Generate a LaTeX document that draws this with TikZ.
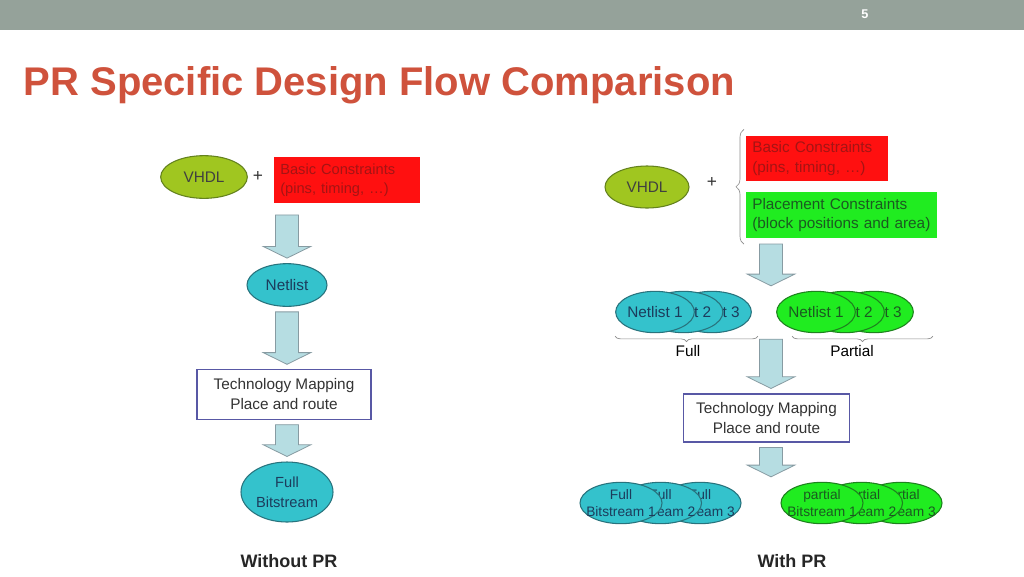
\documentclass[tikz,border=0pt]{standalone}
\usepackage{fontspec}
\setmainfont{Liberation Sans}
\usepackage{tikz}
\usetikzlibrary{shapes,arrows}
\usetikzlibrary{calc}
\usetikzlibrary{positioning}
\usetikzlibrary{decorations.pathreplacing}
\definecolor{barGray}{RGB}{149,162,154}
\definecolor{titleRed}{RGB}{207,82,60}
\definecolor{vhdlFill}{RGB}{160,198,32}
\definecolor{vhdlBorder}{RGB}{100,130,30}
\definecolor{tealFill}{RGB}{52,194,204}
\definecolor{tealBorder}{RGB}{40,115,125}
\definecolor{tealText}{RGB}{28,60,92}
\definecolor{greenFill}{RGB}{32,236,32}
\definecolor{greenBorder}{RGB}{30,130,30}
\definecolor{greenText}{RGB}{27,90,32}
\definecolor{consRed}{RGB}{255,16,16}
\definecolor{consText}{RGB}{165,20,20}
\definecolor{blockBorder}{RGB}{88,88,165}
\definecolor{arrowFill}{RGB}{182,221,226}
\definecolor{arrowBorder}{RGB}{135,155,162}
\tikzstyle{vhdl} = [draw=vhdlBorder, fill=vhdlFill, ellipse, line width=0.8pt,
    minimum width=65pt, minimum height=32pt, inner sep=0pt, text=black!75]
\tikzstyle{netfull} = [draw=tealBorder, fill=tealFill, ellipse, line width=0.8pt,
    minimum width=59pt, minimum height=31pt, inner xsep=-8pt, inner ysep=-4pt,
    text=tealText]
\tikzstyle{netpart} = [netfull, draw=greenBorder, fill=greenFill, text=greenText]
\tikzstyle{bitfull} = [netfull, minimum width=61.5pt, align=center,
    font=\fontsize{10.3}{12.6}\selectfont]
\tikzstyle{bitpart} = [bitfull, draw=greenBorder, fill=greenFill, text=greenText]
\tikzstyle{cons} = [fill=consRed, rectangle, align=left, inner sep=4.5pt,
    minimum height=34pt, text=consText, anchor=west]
\tikzstyle{place} = [cons, fill=greenFill, text=greenText]
\tikzstyle{block} = [draw=blockBorder, fill=white, rectangle, line width=0.8pt,
    align=center, text=black!80, font=\fontsize{11.5}{15}\selectfont]
\tikzstyle{fatarrow} = [draw=arrowBorder, fill=arrowFill, line width=0.6pt]
\tikzstyle{curly} = [decorate, draw=black!45, line width=0.5pt]
\tikzstyle{caption} = [font=\fontsize{13.5}{16}\selectfont\bfseries, text=black!85]
\tikzstyle{plus} = [font=\fontsize{13}{15}\selectfont, text=black!80]
% block arrow from #2 down to #3, #1 is the gap at the top
\newcommand{\fatarrow}[3][3.75pt]{%
  \draw[fatarrow] let \p1=#2, \p2=#3 in
    (\x1-8.6pt,\y1-#1) -- (\x1+8.6pt,\y1-#1) -- (\x1+8.6pt,\y2+12.5pt)
    -- (\x1+17.8pt,\y2+12.5pt) -- (\x1,\y2+3.75pt) -- (\x1-17.8pt,\y2+12.5pt)
    -- (\x1-8.6pt,\y2+12.5pt) -- cycle;}

\begin{document}
\begin{tikzpicture}[x=0.75pt, y=-0.75pt, >=latex',
    every node/.style={font=\fontsize{11.5}{14.5}\selectfont}]
    \useasboundingbox (0,0) rectangle (1024,576);
    \fill[white] (0,0) rectangle (1024,576);
    \fill[barGray] (0,0) rectangle (1024,30);
    \node[text=white, font=\fontsize{9.5}{11}\selectfont\bfseries] (pagenum) at (865,14) {5};
    \node[anchor=base west, text=titleRed, font=\fontsize{30}{36}\selectfont\bfseries]
        (title) at (19,95) {PR Specific Design Flow Comparison};

    % We start with the flow without PR
    \node [vhdl] (vhdlL) at (204,177) {VHDL};
    \node [plus] (plusL) at (258,176) {+};
    \node [cons, text width=100.5pt, font=\fontsize{11}{14}\selectfont] (consL) at (274,180)
        {Basic Constraints\\(pins, timing, \ldots)};
    \node [netfull, minimum width=60pt, minimum height=32pt] (netlistL) at (287,285) {Netlist};
    \node [block, minimum width=130.5pt, minimum height=37pt] (techL) at (284,394.5)
        {Technology Mapping\\Place and route};
    \node [netfull, minimum width=69pt, minimum height=45pt, align=center,
        font=\fontsize{11}{15}\selectfont] (bitL) at (287,492) {Full\\Bitstream};
    \node [caption] (withoutLbl) at (289,561) {Without PR};

    \fatarrow[9pt]{(netlistL |- consL.south)}{(netlistL.north)}
    \fatarrow{(netlistL.south)}{(techL.north)}
    \fatarrow{(bitL |- techL.south)}{(bitL.north)}

    % Then the flow with PR
    \coordinate (flowR) at (771,0);
    \node [vhdl, minimum width=63pt, minimum height=31.5pt] (vhdlR) at (647,187) {VHDL};
    \node [plus] (plusR) at (712,182) {+};
    \node [cons, text width=97pt] (consR) at (746,158.5) {Basic Constraints\\(pins, timing, \ldots)};
    \node [place, text width=134pt, minimum height=33pt] (placeR) at (746,215)
        {Placement Constraints\\(block positions and area)};
    \draw [curly, decoration={brace, amplitude=6pt}]
        ($(placeR.south west)+(-2,6)$) -- ($(consR.north west)+(-2,-6)$);

    \foreach \i in {3,2,1} {
        \node [netfull] (nlA\i) at ({655+28.5*(\i-1)},312) {Netlist \i};
        \node [netpart] (nlB\i) at ({816+29*(\i-1)},312) {Netlist \i};
    }
    \draw [curly, decoration={brace, amplitude=4pt}]
        ($(nlA3.east |- nlA3.south)+(6,3)$) -- ($(nlA1.west |- nlA1.south)+(0,3)$);
    \draw [curly, decoration={brace, amplitude=4pt}]
        ($(nlB3.east |- nlB3.south)+(19,3)$) -- ($(nlB1.west |- nlB1.south)+(16,3)$);
    \node (fullLbl) at (688,351) {Full};
    \node (partLbl) at (852,351) {Partial};

    \node [block, minimum width=125pt, minimum height=36pt] (techR) at (766.5,418)
        {Technology Mapping\\Place and route};

    \foreach \i in {3,2,1} {
        \node [bitfull] (bsA\i) at ({621+39.5*(\i-1)},503) {Full\\Bitstream \i};
        \node [bitpart] (bsB\i) at ({822+39.5*(\i-1)},503) {partial\\Bitstream \i};
    }
    \node [caption] (withLbl) at (792,561) {With PR};

    \fatarrow[4.5pt]{(flowR |- placeR.south)}{(flowR |- nlA1.north)}
    \fatarrow[4.5pt]{(flowR |- nlA1.south)}{(techR.north)}
    \fatarrow{(flowR |- techR.south)}{(flowR |- bsA1.north)}
\end{tikzpicture}
\end{document}
